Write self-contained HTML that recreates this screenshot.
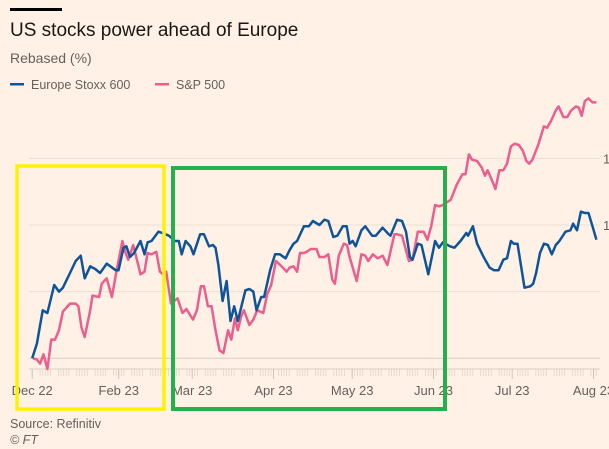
<!DOCTYPE html>
<html><head><meta charset="utf-8"><style>
body{margin:0;background:#fff1e5;width:609px;height:449px;overflow:hidden;font-family:"Liberation Sans",sans-serif}
svg{position:absolute;left:0;top:0}
</style></head><body>
<svg id="c" width="609" height="449" viewBox="0 0 609 449">
<rect x="0" y="0" width="609" height="449" fill="#fff1e5"/>
<rect x="10" y="8" width="52" height="3" fill="#000"/>
<text x="10" y="36" font-size="19" fill="#1a1817">US stocks power ahead of Europe</text>
<text x="10" y="63" font-size="14" fill="#66605c">Rebased (%)</text>
<g>
<rect x="10" y="83" width="14" height="2.5" fill="#0f5499"/>
<text x="31" y="89" font-size="12.5" fill="#66605c">Europe Stoxx 600</text>
<rect x="155" y="83" width="14" height="2.5" fill="#eb5e8d"/>
<text x="176" y="89" font-size="12.5" fill="#66605c">S&amp;P 500</text>
</g>
<g id="grid"></g><g id="axis"></g><g id="lines"></g>
<text x="10" y="428" font-size="12.5" fill="#66605c">Source: Refinitiv</text>
<text x="10" y="444" font-size="12.5" font-style="italic" fill="#66605c">© FT</text>
<rect x="17" y="166" width="147" height="243" fill="none" stroke="#fff200" stroke-width="3.5"/>
<rect x="173" y="168" width="272" height="241" fill="none" stroke="#22b14c" stroke-width="4"/>
</svg>
<script>
const yTicks=[100,105,110,115];
const yTickLabels=["","","110","115"];
const monthDays=[0,33,61,92,122,153,183,214];
const monthLabels=["Dec 22","Feb 23","Mar 23","Apr 23","May 23","Jun 23","Jul 23","Aug 23"];
const stoxxDays=[0,1.8,4,5.8,8.4,10.2,11.7,14.4,16.6,18.5,20,22.1,24,25.9,28.4,31.9,32.9,34.8,35.9,37.3,38.8,41.3,42.8,44,45.5,48.1,49.6,52.1,54.4,55.9,57,58.5,60.3,61.5,64,65.5,67.4,68.9,69.9,71,72.6,74.1,75.6,77,78.4,81.3,82.8,84.3,85.5,87.3,88.4,90.7,92.6,94.4,96.6,98.1,99.6,101,103.6,105.5,107,109.5,111.4,112.9,114.8,116.3,118.4,119.9,121,122.2,123.3,125.5,127,129.6,131,133.6,135.9,136.6,139.1,141,142.5,144,145,147,148.4,151,153.6,155.1,156.6,159.3,161,163.3,165.5,166.2,168,169.6,172.1,174.4,176.1,177.8,179.6,181,182.5,183.6,185,187.7,189.9,191,192.1,193.6,195.1,196.6,198.1,199.6,201,203.3,205.2,206.2,207.7,209.2,210.7,212.1,213.6,215.1];
const stoxxValues=[100,101.1,103.6,103.4,105.5,105,105.3,106.4,107.3,107.7,106,106.9,106.7,106.4,107.1,106.6,106.6,108.3,108.4,107.6,107.9,108.8,107.8,108.7,108.8,109.5,109.4,109.2,108.8,108.8,107.8,108.8,108.4,107.8,109.3,109.3,108.4,108.5,108.3,107,104.3,105.8,102.8,103.9,102.8,105.1,105.2,105,103.6,104.6,104.6,106.6,107.8,107.8,107.5,108.1,108.6,108.8,109.9,109.9,110.3,110,110.4,110.3,109.1,109.2,109.9,109.9,108.6,108.8,108.4,109.6,109.9,109.2,109.2,109.8,109.3,109.2,110.4,110.3,109.5,107.6,107.4,108.6,108.5,106.3,108.8,108.3,108.7,108.4,108.3,108.8,109.4,109.2,109.9,108.6,107.6,106.8,106.6,106.6,107.4,107.5,108.8,108.6,108.6,105.3,105.4,105.6,106.4,107.9,108.6,108.5,107.8,108.5,108.8,109.5,109.6,110.1,109.6,111,110.9,110.9,109.9,108.9];
const spDays=[0.3,1.8,3,4.3,5.8,7.3,8.7,10.2,11.7,14.4,16.6,17.6,18.8,20,22.1,23,25.5,26.5,28.4,30.4,32.1,34.4,35.4,36.6,38.5,40.3,41.3,42.8,44,45.5,47.3,48.7,49.9,51.1,52.9,55.4,57.3,58.8,61.3,62.8,64.3,65.5,67,68.4,69.9,71.4,72.9,74.7,75.9,77.3,78.4,79.6,80.7,82.8,84.3,85.8,88.1,89.6,91.1,92.9,95.1,97,98.1,99.6,101,102.1,103.6,104.7,106.2,108.4,109.5,111.4,112.9,114.4,115.4,116.9,118.8,120,121,123.7,125.5,127,128.1,129.9,131.7,133.6,135.4,138.1,139.1,141,143.6,145,147,149.2,150.7,152.1,153.6,155.1,156.6,159.6,161.8,164,165.2,166.5,167.7,169.6,171.4,172.6,173.6,175.6,176.6,178.1,179.6,181,182.5,184,185.5,187,188.4,189.5,190.7,192.9,195.1,196.3,197.8,199.6,200.7,202.5,204,205.5,207.3,208.4,209.5,210.7,212.1,213.6,215.1];
const spValues=[100,99.9,99.6,100.3,99.2,101.4,101.4,102.1,103.5,104.1,104.1,103.9,102.3,101.6,103.6,104.7,104.6,105.6,106,104.6,106.5,108.8,108,107.4,108.5,107.1,106.3,106.5,107.9,107.8,108,106.5,106.3,106.5,104.1,104.5,103.4,103.7,102.9,103.6,105.4,105.4,103.9,103.9,102.1,100.6,100.4,102.1,101.4,103,102.1,103.1,103.6,102.5,102.9,103.6,103.4,104.8,105.5,107.3,106.9,106.5,106.8,106.9,106.5,107.9,107.9,108,108.2,108.2,107.6,107.6,107.8,105.9,105.6,107.7,108.6,108.5,107.6,105.8,107.8,107.7,107.3,107.8,107.5,107.7,107,109.3,109.3,109.2,107.3,107.4,109.5,109.5,108.9,109.9,111.5,111.4,111.5,111.9,113,113.8,113.8,115.3,114.9,114.8,114.3,113.7,114.1,113.2,112.7,114.1,114.1,114.6,115.9,116.1,116,115.6,114.8,114.6,114.9,116,117.4,117.3,117.8,118.6,118.9,118.1,118.1,118.6,118.9,118.8,118.2,119.3,119.5,119.2,119.2];

const NS="http://www.w3.org/2000/svg";
const x=d=>32.2+d*2.623;
const y=v=>358.3-(v-100)*13.33;
function mk(tag,attrs,parent){const e=document.createElementNS(NS,tag);for(const k in attrs)e.setAttribute(k,attrs[k]);document.getElementById(parent).appendChild(e);return e;}

yTicks.forEach((t,i)=>{
  const l=mk('line',{x1:29,x2:600,y1:y(t),y2:y(t),stroke:t===100?'#d9cdc3':'#ebdfd4','stroke-width':1},'grid');
  
  
  if(yTickLabels[i]){
    const tx=mk('text',{x:603,y:y(t)+5,'font-size':13,fill:'#66605c'},'grid');
    tx.textContent=yTickLabels[i];
    
    
  }
});
const ax=mk('line',{x1:29,x2:600,y1:369,y2:369,stroke:'#d9cdc3','stroke-width':1},'axis');


for(let d=0;d<=215;d++){
  if((d+5)%7===0||(d+6)%7===0)continue;
  const tk=mk('line',{x1:x(d),x2:x(d),y1:369,y2:376,stroke:'#e0d3c8','stroke-width':0.8},'axis');
  
  
}
monthDays.forEach((d,i)=>{
  const tk=mk('line',{x1:x(d),x2:x(d),y1:369,y2:379,stroke:'#cfc3b8','stroke-width':1},'axis');
  
  
  const tx=mk('text',{x:x(d),y:395,'font-size':13,fill:'#66605c','text-anchor':'middle'},'axis');
  tx.textContent=monthLabels[i];
  
  
});
function path(days,vals){return days.map((d,i)=>(i?'L':'M')+x(d).toFixed(1)+' '+y(vals[i]).toFixed(1)).join(' ');}
const sp=mk('path',{d:path(spDays,spValues),fill:'none',stroke:'#eb5e8d','stroke-width':2.5,'stroke-linejoin':'round'},'lines');


const st=mk('path',{d:path(stoxxDays,stoxxValues),fill:'none',stroke:'#0f5499','stroke-width':2.5,'stroke-linejoin':'round'},'lines');


</script>
</body></html>
